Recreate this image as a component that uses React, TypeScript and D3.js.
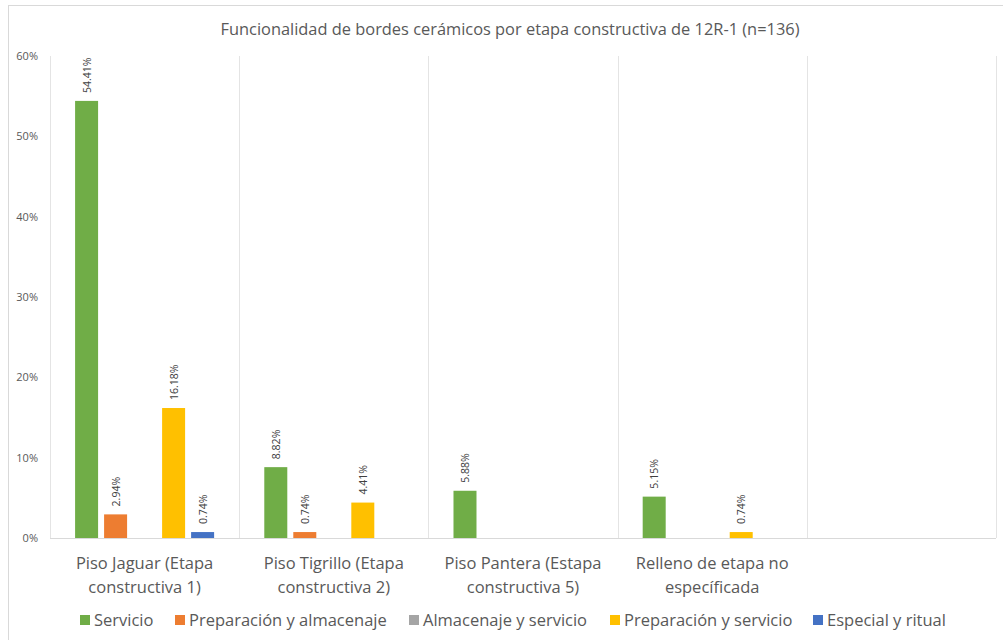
import React from "react";
import * as d3 from "d3";

const categories: string[][] = [
  ["Piso Jaguar (Etapa", "constructiva 1)"],
  ["Piso Tigrillo (Etapa", "constructiva 2)"],
  ["Piso Pantera (Estapa", "constructiva 5)"],
  ["Relleno de etapa no", "específicada"],
  [""],
];
const seriesNames = [
  "Servicio",
  "Preparación y almacenaje",
  "Almacenaje y servicio",
  "Preparación y servicio",
  "Especial y ritual",
];
const seriesColors = ["#70AD47", "#ED7D31", "#A5A5A5", "#FFC000", "#4472C4"];
const servicio = [54.41, 8.82, 5.88, 5.15, null];
const prepAlmacenaje = [2.94, 0.74, null, null, null];
const almacenajeServicio = [null, null, null, null, null];
const prepServicio = [16.18, 4.41, null, 0.74, null];
const especialRitual = [0.74, null, null, null, null];
const seriesValues = [servicio, prepAlmacenaje, almacenajeServicio, prepServicio, especialRitual];
const yTicks = [0, 10, 20, 30, 40, 50, 60];
const title = "Funcionalidad de bordes cerámicos por etapa constructiva de 12R-1 (n=136)";

const W = 1003;
const H = 640;
const left = 50;
const right = 996;
const top = 56;
const bottom = 538;
const font = "'Open Sans', 'Noto Sans', sans-serif";
const textColor = "#595959";

export default function App() {
  const x0 = d3.scaleBand<number>().domain(categories.map((_, i) => i)).range([left, right]).padding(0);
  const cw = x0.bandwidth();
  const x1 = d3
    .scaleBand<number>()
    .domain(seriesNames.map((_, i) => i))
    .range([0, cw])
    .paddingInner(0.207)
    .paddingOuter(0.865);
  const y = d3.scaleLinear().domain([0, 60]).range([bottom, top]);

  const legendX = [80, 175, 409, 610, 813];

  return (
    <svg
      width={W}
      height={H}
      style={{ position: "absolute", left: 0, top: 0, background: "#fff" }}
      fontFamily={font}
    >
      <rect x={8.5} y={5.5} width={1010} height={650} fill="#fff" stroke="#d9d9d9" />
      <text x={510} y={35} textAnchor="middle" fontSize={16.4} fill={textColor}>
        {title}
      </text>
      {/* category dividers */}
      {d3.range(categories.length + 1).map((i) => {
        const xv = Math.round(left + i * cw) + 0.5;
        return <line key={i} x1={xv} x2={xv} y1={top} y2={bottom} stroke="#e4e4e4" strokeWidth={1} />;
      })}
      <line x1={left} x2={right} y1={bottom + 0.5} y2={bottom + 0.5} stroke="#d9d9d9" />
      {yTicks.map((t) => (
        <text key={t} x={38} y={y(t) + 4} textAnchor="end" fontSize={11} fill={textColor}>
          {t}%
        </text>
      ))}
      {seriesValues.map((vals, s) =>
        vals.map((v, c) => {
          if (v === null) return null;
          const bx = (x0(c) as number) + (x1(s) as number);
          const by = y(v);
          const cx = bx + x1.bandwidth() / 2;
          return (
            <g key={`${s}-${c}`}>
              <rect x={bx} y={by} width={x1.bandwidth()} height={bottom - by} fill={seriesColors[s]} />
              <text
                transform={`translate(${cx + 4},${by - 8}) rotate(-90)`}
                textAnchor="start"
                fontSize={10.5}
                fill="#404040"
              >
                {v.toFixed(2)}%
              </text>
            </g>
          );
        })
      )}
      {categories.map((lines, c) => (
        <text key={c} textAnchor="middle" fontSize={16.5} fill={textColor}>
          {lines.map((l, k) => (
            <tspan key={k} x={(x0(c) as number) + cw / 2} y={569 + k * 24}>
              {l}
            </tspan>
          ))}
        </text>
      ))}
      {seriesNames.map((n, s) => (
        <g key={n} transform={`translate(${legendX[s]},620)`}>
          <rect x={0} y={-5} width={10} height={10} fill={seriesColors[s]} />
          <text x={14} y={6} fontSize={16.5} fill={textColor}>
            {n}
          </text>
        </g>
      ))}
    </svg>
  );
}
